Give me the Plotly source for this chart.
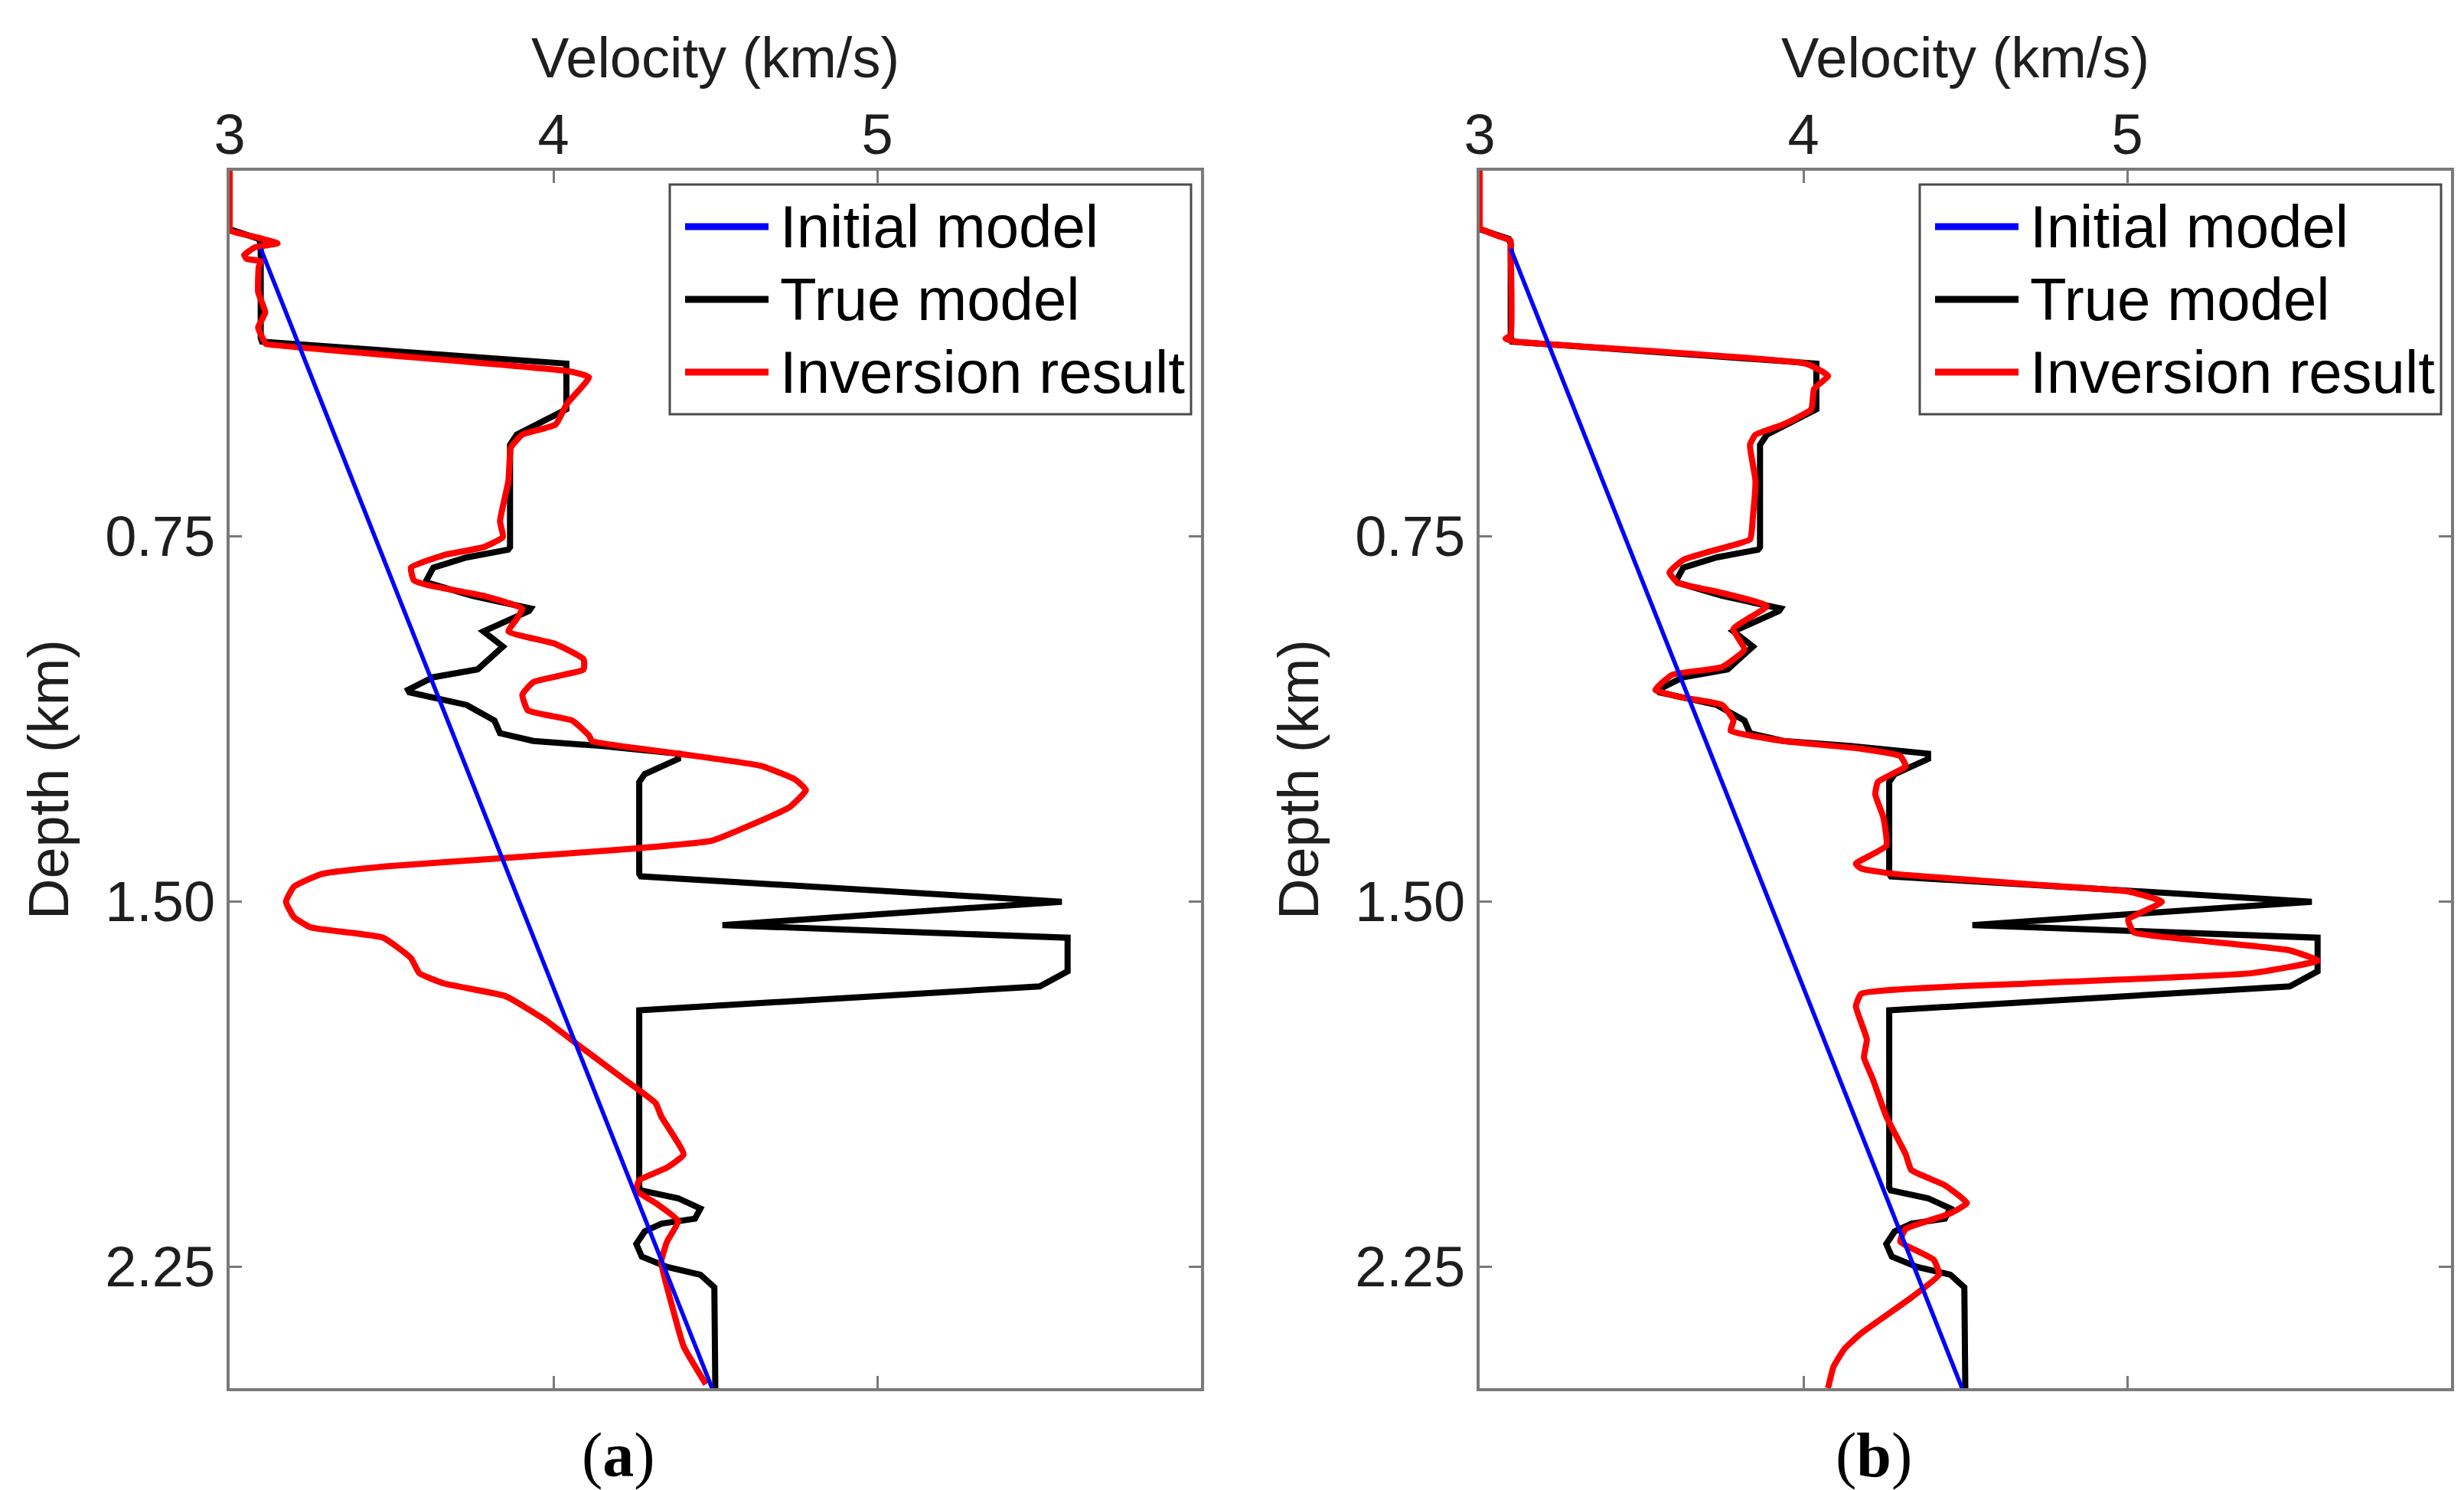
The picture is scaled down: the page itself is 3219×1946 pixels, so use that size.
import plotly.graph_objects as go

# ---------------- data (depth km, velocity km/s) ----------------
initial_model = [(0.16, 3.096), (2.5, 4.49)]

true_model = [
    (0.0, 3.0), (0.12, 3.0), (0.14, 3.09), (0.15, 3.096), (0.343, 3.096), (0.351, 3.10),
    (0.396, 4.04), (0.490, 4.04), (0.542, 3.887), (0.563, 3.866), (0.773, 3.866),
    (0.778, 3.86), (0.794, 3.732), (0.815, 3.629), (0.841, 3.608), (0.846, 3.612),
    (0.873, 3.749), (0.899, 3.93), (0.904, 3.925), (0.946, 3.784), (0.977, 3.844),
    (1.024, 3.766), (1.040, 3.629), (1.066, 3.551), (1.071, 3.555), (1.097, 3.732),
    (1.129, 3.818), (1.155, 3.835), (1.171, 3.938), (1.181, 4.144), (1.197, 4.385),
    (1.208, 4.385), (1.239, 4.282), (1.255, 4.265), (1.444, 4.265), (1.449, 4.27),
    (1.501, 5.57), (1.549, 4.522), (1.575, 5.588), (1.644, 5.588), (1.675, 5.502),
    (1.724, 4.265), (2.088, 4.265), (2.094, 4.27), (2.110, 4.385), (2.131, 4.454),
    (2.152, 4.437), (2.162, 4.334), (2.178, 4.282), (2.204, 4.256), (2.230, 4.273),
    (2.251, 4.351), (2.267, 4.454), (2.293, 4.497), (2.5, 4.5),
]

inversion_a = [
    (0.0, 3.0), (0.118, 3.0), (0.123, 3.0), (0.136, 3.079), (0.149, 3.148), (0.157, 3.079),
    (0.173, 3.045), (0.181, 3.053), (0.186, 3.096), (0.197, 3.09), (0.249, 3.088),
    (0.291, 3.11), (0.322, 3.088), (0.354, 3.11), (0.356, 3.113), (0.411, 4.041),
    (0.424, 4.11), (0.479, 4.041), (0.521, 4.007), (0.542, 3.904), (0.568, 3.869),
    (0.637, 3.861), (0.720, 3.835), (0.752, 3.844), (0.773, 3.784), (0.789, 3.663),
    (0.815, 3.560), (0.841, 3.569), (0.851, 3.612), (0.873, 3.784), (0.899, 3.904),
    (0.920, 3.887), (0.946, 3.861), (0.972, 4.007), (1.003, 4.093), (1.024, 4.093),
    (1.050, 3.938), (1.076, 3.904), (1.108, 3.921), (1.129, 4.058), (1.160, 4.110),
    (1.171, 4.119), (1.197, 4.385), (1.222, 4.64), (1.250, 4.746), (1.272, 4.78),
    (1.307, 4.729), (1.344, 4.608), (1.376, 4.488), (1.391, 4.265), (1.412, 3.835),
    (1.428, 3.491), (1.444, 3.285), (1.470, 3.199), (1.501, 3.174), (1.533, 3.199),
    (1.554, 3.251), (1.575, 3.474), (1.617, 3.560), (1.648, 3.586), (1.669, 3.663),
    (1.695, 3.852), (1.743, 3.973), (1.795, 4.076), (1.863, 4.213), (1.915, 4.316),
    (1.942, 4.333), (2.020, 4.402), (2.047, 4.351), (2.073, 4.265), (2.094, 4.256),
    (2.120, 4.316), (2.157, 4.385), (2.199, 4.351), (2.241, 4.333), (2.335, 4.368),
    (2.414, 4.402), (2.492, 4.471),
]

inversion_b = [
    (0.0, 3.0), (0.115, 3.0), (0.118, 3.0), (0.131, 3.045), (0.144, 3.096), (0.160, 3.096),
    (0.338, 3.096), (0.345, 3.08), (0.351, 3.113), (0.396, 4.007), (0.421, 4.076),
    (0.448, 4.033), (0.490, 4.024), (0.521, 3.938), (0.542, 3.852), (0.563, 3.835),
    (0.637, 3.852), (0.710, 3.844), (0.757, 3.835), (0.778, 3.732), (0.799, 3.629),
    (0.825, 3.586), (0.846, 3.612), (0.867, 3.749), (0.894, 3.887), (0.941, 3.784),
    (0.983, 3.818), (1.019, 3.749), (1.035, 3.595), (1.066, 3.543), (1.082, 3.629),
    (1.097, 3.749), (1.129, 3.784), (1.150, 3.775), (1.171, 3.938), (1.187, 4.179),
    (1.202, 4.299), (1.223, 4.316), (1.255, 4.230), (1.281, 4.222), (1.328, 4.247),
    (1.386, 4.256), (1.423, 4.162), (1.433, 4.179), (1.444, 4.282), (1.465, 4.694),
    (1.480, 5.003), (1.501, 5.107), (1.538, 5.003), (1.564, 5.021), (1.580, 5.210),
    (1.601, 5.502), (1.622, 5.588), (1.648, 5.381), (1.669, 4.694), (1.690, 4.179),
    (1.716, 4.162), (1.784, 4.196), (1.821, 4.187), (1.863, 4.213), (1.942, 4.256),
    (2.020, 4.316), (2.052, 4.333), (2.083, 4.436), (2.120, 4.505), (2.141, 4.454),
    (2.173, 4.316), (2.199, 4.299), (2.236, 4.402), (2.267, 4.419), (2.314, 4.333),
    (2.387, 4.179), (2.419, 4.127), (2.456, 4.093), (2.5, 4.076),
]

x_ticks = [3, 4, 5]
y_ticks = [0.75, 1.5, 2.25]
y_ticktext = ["0.75", "1.50", "2.25"]
legend_labels = ["Initial model", "True model", "Inversion result"]
legend_colors = ["#0000ff", "#000000", "#ff0000"]
captions = ["a", "b"]

# ---------------- layout geometry (pixels) ----------------
W, H = 3219, 1946
PANEL_LEFT = [292, 1925]
PANEL_W = 1269
TOP, BOTTOM = 215, 1805


def fx(p):
    return p / W


def fy(p):
    return 1 - p / H


def split(pairs):
    return [p[1] for p in pairs], [p[0] for p in pairs]


fig = go.Figure()
panels = [("x", "y", inversion_a), ("x2", "y2", inversion_b)]
for xa, ya, inv in panels:
    v, d = split(true_model)
    fig.add_trace(go.Scatter(x=v, y=d, mode="lines", xaxis=xa, yaxis=ya,
                             line=dict(color="#000000", width=8), showlegend=False,
                             name="True model"))
    v, d = split(inv)
    fig.add_trace(go.Scatter(x=v, y=d, mode="lines", xaxis=xa, yaxis=ya,
                             line=dict(color="#ff0000", width=8, shape="spline", smoothing=0.4),
                             showlegend=False, name="Inversion result"))
    v, d = split(initial_model)
    fig.add_trace(go.Scatter(x=v, y=d, mode="lines", xaxis=xa, yaxis=ya,
                             line=dict(color="#0000ff", width=5.5), showlegend=False,
                             name="Initial model"))

AX_COL = "#7a7a7a"
TXT_COL = "#1e1e1e"
FONT = "Liberation Sans"


def xaxis_cfg(left):
    return dict(
        domain=[fx(left), fx(left + PANEL_W)], range=[3, 6], side="top",
        tickvals=x_ticks, ticks="inside", ticklen=16, tickwidth=3, tickcolor=AX_COL,
        showline=True, linecolor=AX_COL, linewidth=4, mirror="ticks",
        showgrid=False, zeroline=False, automargin=False, ticklabelstandoff=-12,
        tickfont=dict(family=FONT, size=74, color=TXT_COL),
        title=dict(text="Velocity (km/s)", font=dict(family=FONT, size=74, color=TXT_COL),
                   standoff=10),
    )


def yaxis_cfg(anchor):
    return dict(
        domain=[fy(BOTTOM), fy(TOP)], range=[2.5, 0], anchor=anchor,
        tickvals=y_ticks, ticktext=y_ticktext, ticks="inside", ticklen=16, tickwidth=3,
        tickcolor=AX_COL, showline=True, linecolor=AX_COL, linewidth=4, mirror="ticks",
        showgrid=False, zeroline=False, automargin=False, layer="below traces",
        tickfont=dict(family=FONT, size=74, color=TXT_COL),
        title=dict(text="Depth (km)", font=dict(family=FONT, size=74, color=TXT_COL),
                   standoff=24),
    )


shapes = []
annotations = []
ROWS = [288, 383, 478]
for i, left in enumerate(PANEL_LEFT):
    shapes.append(dict(type="rect", xref="paper", yref="paper",
                       x0=fx(left + 575), x1=fx(left + 1256), y0=fy(533), y1=fy(233),
                       line=dict(color="#4a4a4a", width=3), fillcolor="white"))
    for lab, col, ry in zip(legend_labels, legend_colors, ROWS):
        shapes.append(dict(type="line", xref="paper", yref="paper",
                           x0=fx(left + 595), x1=fx(left + 704), y0=fy(ry), y1=fy(ry),
                           line=dict(color=col, width=9)))
        annotations.append(dict(text=lab, xref="paper", yref="paper",
                                x=fx(left + 717), y=fy(ry), xanchor="left", yanchor="middle",
                                showarrow=False,
                                font=dict(family=FONT, size=78, color="#000000")))
    cx = [800, 2440][i]
    annotations.append(dict(text="(<b>%s</b>)" % captions[i], xref="paper", yref="paper",
                            x=fx(cx), y=fy(1892), xanchor="center", yanchor="middle",
                            showarrow=False,
                            font=dict(family="Liberation Serif", size=82, color="#000000")))

fig.update_layout(
    width=W, height=H, margin=dict(l=0, r=0, t=0, b=0),
    paper_bgcolor="white", plot_bgcolor="white",
    xaxis=dict(xaxis_cfg(PANEL_LEFT[0]), anchor="y"),
    yaxis=yaxis_cfg("x"),
    xaxis2=dict(xaxis_cfg(PANEL_LEFT[1]), anchor="y2"),
    yaxis2=yaxis_cfg("x2"),
    shapes=shapes, annotations=annotations, showlegend=False,
)

fig.write_html("out.html")
